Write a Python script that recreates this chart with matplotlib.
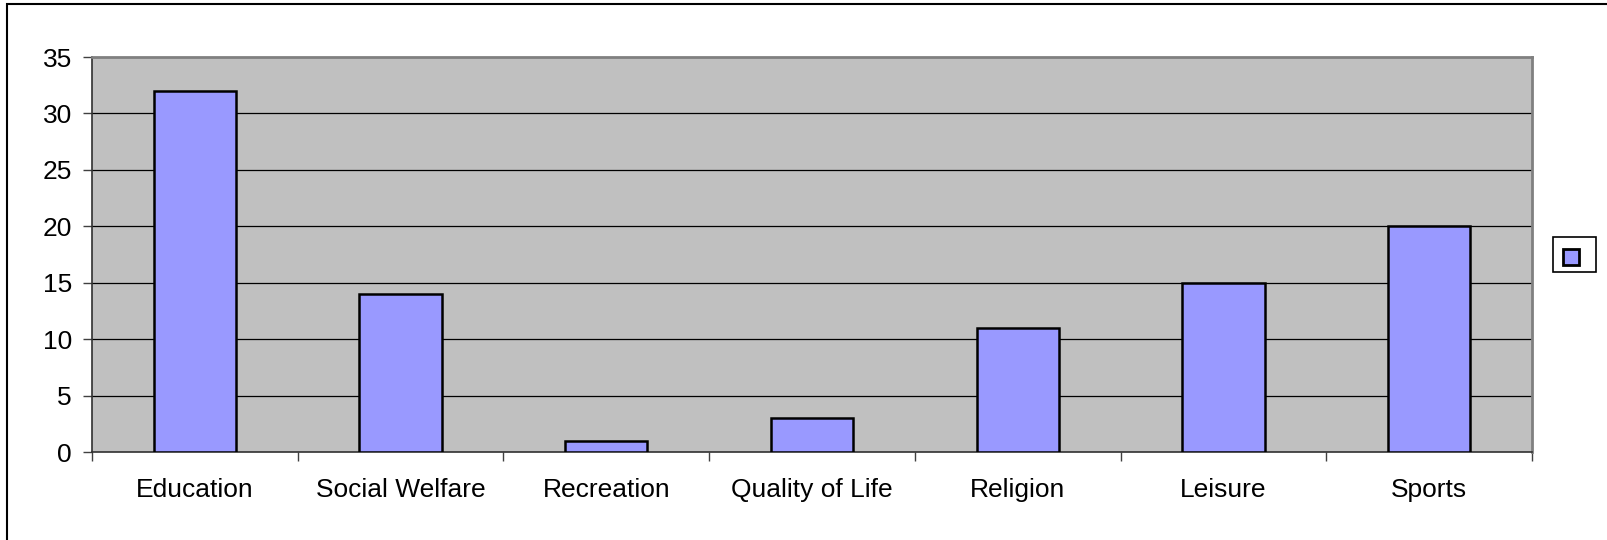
import matplotlib
matplotlib.use("Agg")
import matplotlib.pyplot as plt
from matplotlib.patches import Rectangle
import numpy as np

categories = ["Education", "Social Welfare", "Recreation", "Quality of Life",
              "Religion", "Leisure", "Sports"]
values = [32, 14, 1, 3, 11, 15, 20]
yticks = [0, 5, 10, 15, 20, 25, 30, 35]

plt.rcParams['font.family'] = ['Liberation Sans', 'DejaVu Sans']

W, H = 1607, 540
fig = plt.figure(figsize=(W / 100, H / 100), dpi=100)
fig.patch.set_facecolor('white')

# outer chart border (left and top visible)
fig.patches.append(Rectangle((7 / W, -0.2), 1.5, 1.2 - 4 / H,
                             transform=fig.transFigure, fill=False,
                             edgecolor='black', linewidth=1.5, zorder=0))

left, right = 92 / W, 1532 / W
bottom, top = 1 - 452 / H, 1 - 57 / H
ax = fig.add_axes([left, bottom, right - left, top - bottom])
ax.set_facecolor('#C0C0C0')

x = np.arange(len(categories))
ax.bar(x, values, width=0.40, color='#9999FF', edgecolor='black',
       linewidth=1.8, zorder=3)

ax.set_xlim(-0.5, len(categories) - 0.5)
ax.set_ylim(0, 35)

for y in yticks[1:-1]:
    ax.axhline(y, color='black', linewidth=0.9, zorder=1)

ax.set_yticks(yticks)
ax.set_yticklabels([str(v) for v in yticks])
ax.tick_params(axis='y', length=6.5, width=1, color='#404040', pad=8,
               labelsize=19)

ax.set_xticks(x)
ax.set_xticklabels(categories)
ax.set_xticks(np.arange(len(categories) + 1) - 0.5, minor=True)
ax.tick_params(axis='x', which='major', length=0, pad=19, labelsize=19)
ax.tick_params(axis='x', which='minor', length=6.5, width=1, color='#404040')

ax.spines['top'].set_color('#808080')
ax.spines['top'].set_linewidth(2)
ax.spines['right'].set_color('#808080')
ax.spines['right'].set_linewidth(2)
ax.spines['left'].set_color('#303030')
ax.spines['left'].set_linewidth(1.2)
ax.spines['bottom'].set_color('#303030')
ax.spines['bottom'].set_linewidth(1.2)

# legend box with a single swatch and no label
fig.patches.append(Rectangle((1553 / W, 1 - 272 / H), 43 / W, 35 / H,
                             transform=fig.transFigure, facecolor='white',
                             edgecolor='black', linewidth=1.2, zorder=5))
fig.patches.append(Rectangle((1563 / W, 1 - 265 / H), 16 / W, 16 / H,
                             transform=fig.transFigure, facecolor='#9999FF',
                             edgecolor='black', linewidth=2, zorder=6))

fig.savefig('out.png', dpi=100)
